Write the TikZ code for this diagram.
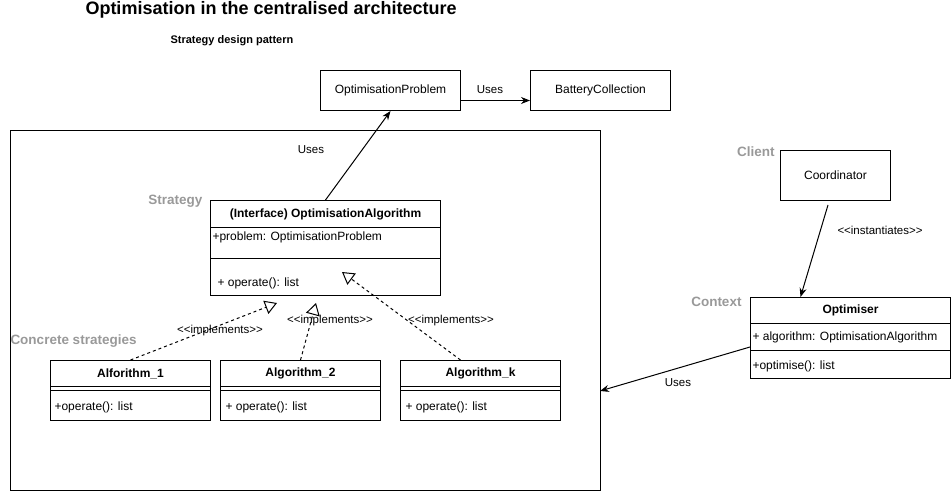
\documentclass[tikz,border=0pt]{standalone}
\usepackage{fontspec}
\setmainfont{Liberation Sans}
\usetikzlibrary{arrows.meta}
\definecolor{rolegray}{RGB}{153,153,153}
\newcommand{\stereo}[1]{<\kern0pt<#1>\kern0pt>}
\tikzset{
	umlbox/.style = {draw=black, rectangle, inner sep=0pt, anchor=north west, font=\fontsize{12}{14}\selectfont},
	classhead/.style = {umlbox, font=\fontsize{12}{14}\selectfont\bfseries},
	member/.style = {inner sep=0pt, anchor=west, font=\fontsize{12}{14}\selectfont},
	role/.style = {inner sep=0pt, text=rolegray, font=\fontsize{13.5}{16}\selectfont\bfseries},
	edgelabel/.style = {inner sep=0pt, font=\fontsize{11.5}{13}\selectfont},
	uses/.style = {draw=black, -{Stealth[length=9pt,width=7pt]}},
	implements/.style = {draw=black, dashed, -{Triangle[open,length=12pt,width=14pt]}}
}
\begin{document}
\begin{tikzpicture}[x=1pt, y=-1pt, line width=1pt]
		\useasboundingbox (0,0) rectangle (951,492);
		% titles
		\node [anchor=west, inner sep=0pt, font=\fontsize{18}{21}\selectfont\bfseries] (title) at (85,10) {Optimisation in the centralised architecture};
		\node [anchor=west, inner sep=0pt, font=\fontsize{11}{13}\selectfont\bfseries] (subtitle) at (170,41) {Strategy design pattern};
		% top classes
		\node [umlbox, minimum width=140pt, minimum height=40pt] (problem) at (320,70) {OptimisationProblem};
		\node [umlbox, minimum width=140pt, minimum height=40pt] (battery) at (530,70) {BatteryCollection};
		\node [umlbox, minimum width=590pt, minimum height=360pt] (frame) at (10,130) {};
		% strategy interface
		\node [role, anchor=east] (strategy) at (203,201) {Strategy};
		\node [classhead, minimum width=230pt, minimum height=27pt] (ihead) at (210,200) {(Interface) OptimisationAlgorithm};
		\node [umlbox, minimum width=230pt, minimum height=31pt] (iattr) at (210,227) {};
		\node [umlbox, minimum width=230pt, minimum height=37pt] (imeth) at (210,258) {};
		\node [member] (iattrtext) at (212,237) {+problem: OptimisationProblem};
		\node [member] (imethtext) at (217,283) {+ operate(): list};
		% concrete strategies
		\node [role, anchor=west] (concrete) at (10,341) {Concrete strategies};
		\node [classhead, minimum width=160pt, minimum height=26pt] (a1head) at (50,360) {Alforithm\_1};
		\node [umlbox, minimum width=160pt, minimum height=4pt] (a1sep) at (50,386) {};
		\node [umlbox, minimum width=160pt, minimum height=30pt] (a1meth) at (50,390) {};
		\node [member] (a1text) at (54,407) {+operate(): list};
		\node [classhead, minimum width=160pt, minimum height=26pt] (a2head) at (220,360) {Algorithm\_2};
		\node [umlbox, minimum width=160pt, minimum height=4pt] (a2sep) at (220,386) {};
		\node [umlbox, minimum width=160pt, minimum height=30pt] (a2meth) at (220,390) {};
		\node [member] (a2text) at (225,407) {+ operate(): list};
		\node [classhead, minimum width=160pt, minimum height=26pt] (akhead) at (400,360) {Algorithm\_k};
		\node [umlbox, minimum width=160pt, minimum height=4pt] (aksep) at (400,386) {};
		\node [umlbox, minimum width=160pt, minimum height=30pt] (akmeth) at (400,390) {};
		\node [member] (aktext) at (405,407) {+ operate(): list};
		% client and context
		\node [role, anchor=east] (client) at (775,152) {Client};
		\node [umlbox, minimum width=110pt, minimum height=50pt] (coordinator) at (780,150) {Coordinator};
		\node [role, anchor=east] (context) at (742,302) {Context};
		\node [classhead, minimum width=200pt, minimum height=26pt] (ohead) at (750,297) {Optimiser};
		\node [umlbox, minimum width=200pt, minimum height=27pt] (oattr) at (750,323) {};
		\node [umlbox, minimum width=200pt, minimum height=28pt] (ometh) at (750,350) {};
		\node [member] (oattrtext) at (752,337) {+ algorithm: OptimisationAlgorithm};
		\node [member] (omethtext) at (752,366) {+optimise(): list};
		% connectors
		\coordinate (t1) at (277,303);
		\coordinate (t2) at (316,303);
		\coordinate (tk) at (342,272);
		\coordinate (cstart) at (828,205);
		\coordinate (oout) at (750,347);
		\coordinate (fin) at (600,391);
		\draw [uses] ([yshift=-10pt]problem.east) -- ([yshift=-10pt]battery.west);
		\node [edgelabel] (uses1) at (490,90) {Uses};
		\draw [uses] (ihead.north) -- (problem.south);
		\node [edgelabel] (uses2) at (311,150) {Uses};
		\draw [implements] (a1head.north) -- (t1);
		\draw [implements] (a2head.north) -- (t2);
		\draw [implements] ([xshift=-20pt]akhead.north) -- (tk);
		\node [edgelabel] (impl1) at (220,331) {\stereo{implements}};
		\node [edgelabel] (impl2) at (330,321) {\stereo{implements}};
		\node [edgelabel] (implk) at (451,321) {\stereo{implements}};
		\draw [uses] (cstart) -- ([xshift=-50pt]ohead.north);
		\node [edgelabel, anchor=west] (inst) at (837,230) {\stereo{instantiates}};
		\draw [uses] (oout) -- (fin);
		\node [edgelabel] (uses3) at (678,383) {Uses};
\end{tikzpicture}
\end{document}
